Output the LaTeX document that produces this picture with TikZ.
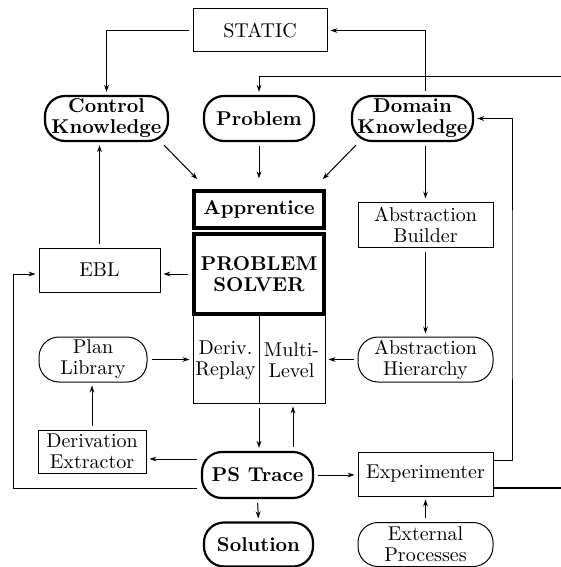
\documentclass[tikz,border=0pt]{standalone}
\usetikzlibrary{arrows.meta}
\begin{document}
\begin{tikzpicture}[x=0.5pt,y=-0.5pt,
  every node/.style={font=\fontsize{10}{10.5}\selectfont, align=center, inner sep=1pt},
  box/.style={draw, line width=0.5pt, rectangle},
  thickbox/.style={draw, line width=1.6pt, rectangle},
  pill/.style={draw, line width=0.5pt, rectangle, rounded corners=10pt},
  boldpill/.style={draw, line width=1.1pt, rectangle, rounded corners=10pt, font=\fontsize{10}{10.5}\selectfont\bfseries},
  arr/.style={line width=0.5pt, -{Stealth[length=3.5pt,width=2.4pt]}, shorten >=1.5pt, shorten <=2pt},
  ln/.style={line width=0.5pt}
]
\useasboundingbox (0,0) rectangle (561,567);

\node[box, minimum width=67pt, minimum height=21.5pt] (static) at (260,30.5) {STATIC};
\node[boldpill, minimum width=61.5pt, minimum height=22.5pt] (ctrl) at (106.5,118.5) {Control\\Knowledge};
\node[boldpill, minimum width=55pt, minimum height=22.5pt] (prob) at (259,118.5) {Problem};
\node[boldpill, minimum width=60.5pt, minimum height=22.5pt] (dom) at (412.5,118.5) {Domain\\Knowledge};

\node[thickbox, minimum width=65pt, minimum height=18.5pt, font=\fontsize{10}{10.5}\selectfont\bfseries] (appr) at (259,209.5) {Apprentice};
\node[thickbox, minimum width=65pt, minimum height=40pt, font=\fontsize{10}{10.5}\selectfont\bfseries] (ps) at (259,274) {PROBLEM\\SOLVER};
\node[box, minimum width=66pt, minimum height=44pt] (lower) at (259,359) {};
\draw[ln] (lower.north) -- (lower.south);
\node (deriv) at (225.5,360) {Deriv.\\Replay};
\node (multi) at (291.5,360) {Multi-\\Level};

\node[box, minimum width=67.5pt, minimum height=22.5pt] (ab) at (425.5,224.5) {Abstraction\\Builder};
\node[box, minimum width=60.5pt, minimum height=22pt] (ebl) at (99.5,270) {EBL};
\node[pill, minimum width=54pt, minimum height=22.5pt] (pl) at (93,359.5) {Plan\\Library};
\node[pill, minimum width=67.5pt, minimum height=22.5pt] (ah) at (425.5,359.5) {Abstraction\\Hierarchy};
\node[box, minimum width=54pt, minimum height=21.5pt] (de) at (92,451.5) {Derivation\\Extractor};
\node[boldpill, minimum width=55.5pt, minimum height=23pt] (pst) at (257.5,475) {PS Trace};
\node[box, minimum width=67.5pt, minimum height=22pt] (exp) at (425.5,474) {Experimenter};
\node[boldpill, minimum width=54.5pt, minimum height=22pt] (sol) at (258.5,544.5) {Solution};
\node[pill, minimum width=67.5pt, minimum height=22pt] (ext) at (425.5,544.5) {External\\Processes};

\coordinate (rtop) at (561,77);
\coordinate (rv) at (512,300);
\coordinate (lft) at (13,488);
\coordinate (rbot) at (561,488);

% top connections
\draw[arr] (static.west) -| (ctrl.north);
\draw[arr] (ab.north |- dom.north) |- (static.east);
\draw[arr, shorten <=0pt] (rtop) -| (prob.north);
\draw[arr] ([xshift=-4pt]ctrl.south east) -- ([xshift=3.5pt,yshift=4pt]appr.north west);
\draw[arr] (prob.south) -- ([yshift=4pt]appr.north);
\draw[arr] ([xshift=4pt]dom.south west) -- ([xshift=-2.5pt,yshift=4pt]appr.north east);
\draw[arr] (ebl.north) -- (ebl.north |- ctrl.south);
\draw[arr] (ab.north |- dom.south) -- (ab.north);

% middle
\draw[arr] (ps.west) -- (ps.west -| ebl.east);
\draw[arr] (ab.south) -- (ah.north);
\draw[arr] (pl.east) -- (pl.east -| lower.west);
\draw[arr] (ah.west) -- (ah.west -| lower.east);

% lower
\draw[arr] (lower.south) -- (lower.south |- pst.north);
\draw[arr] ([xshift=17pt]lower.south |- pst.north) -- ([xshift=17pt]lower.south);
\draw[arr] (de.north) -- (de.north |- pl.south);
\draw[arr] ([yshift=8pt]pst.west) -- ([yshift=8pt]pst.west -| de.east);
\draw[arr] ([yshift=-6.5pt]pst.west) -- (lft) |- ([yshift=-2pt]ebl.west);
\draw[arr] (pst.east) -- (pst.east -| exp.west);
\draw[arr, shorten <=0pt] ([yshift=7pt]exp.east) -| (rv) |- (dom.east);
\draw[ln, line width=0.8pt] ([yshift=-7pt]exp.east) -- (rbot);
\draw[arr] (pst.south) -- (sol.north);
\draw[arr] (ext.north) -- (exp.south);
\end{tikzpicture}
\end{document}
